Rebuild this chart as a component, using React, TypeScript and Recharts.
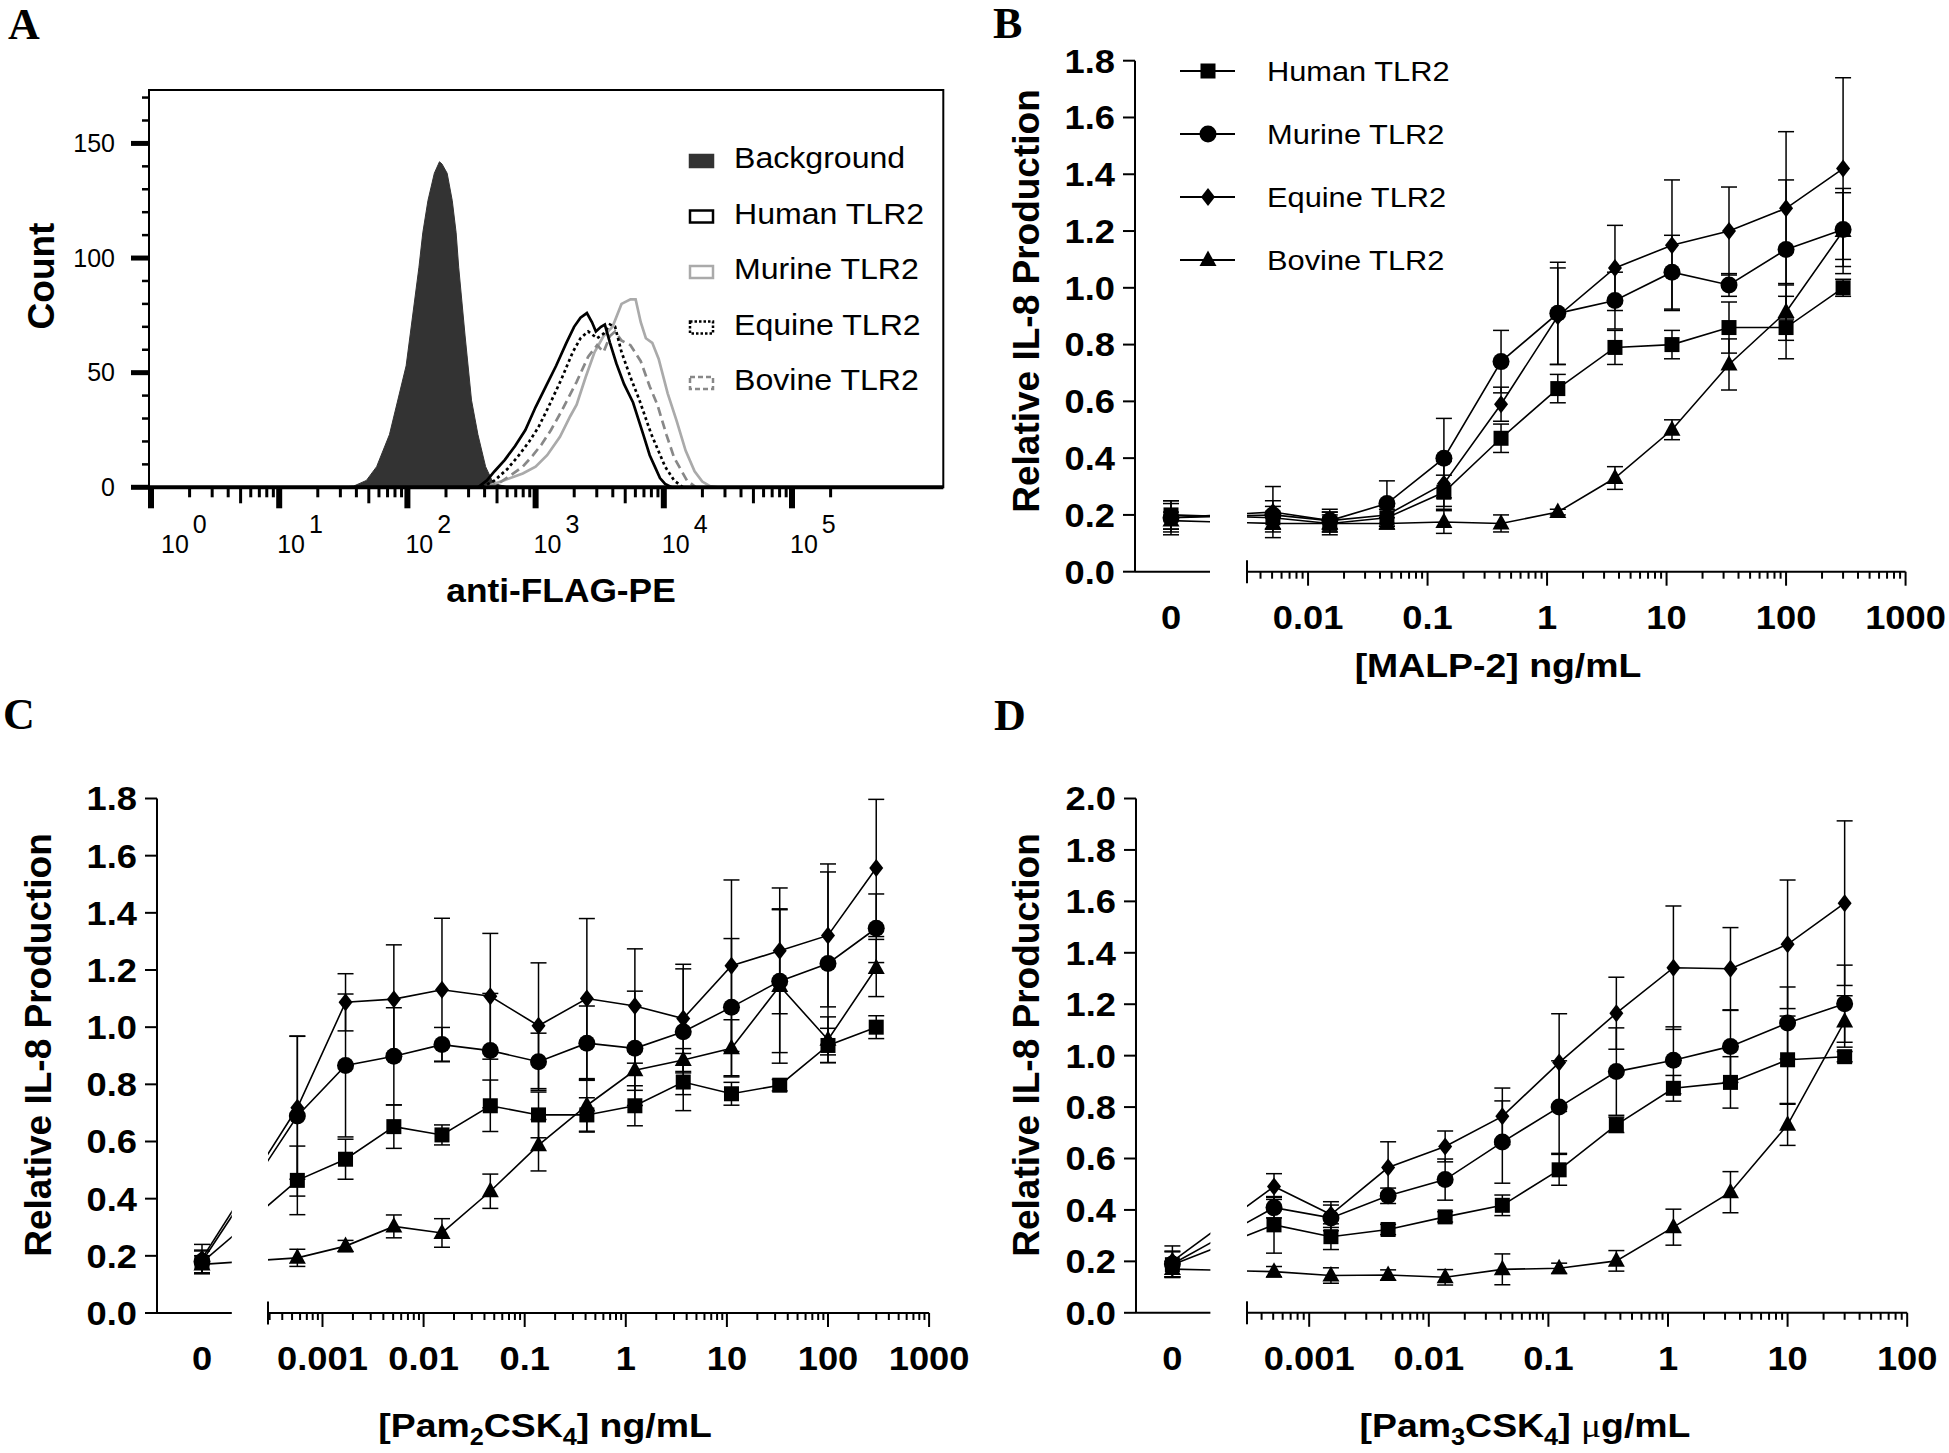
import React from 'react';
import { ComposedChart, Line, Area, XAxis, YAxis, ErrorBar, ReferenceArea, Legend } from 'recharts';

const SANS = '"Liberation Sans", Arial, Helvetica, sans-serif';
const SERIF = '"Liberation Serif", "Times New Roman", Times, serif';

// ---------------- Panel A: flow cytometry histograms (x = log10 anti-FLAG-PE, y = count)
const BG_LOG = [1.45, 1.58, 1.68, 1.76, 1.86, 1.99, 2.09, 2.12, 2.16, 2.21, 2.25, 2.27, 2.31, 2.35, 2.38, 2.40, 2.45, 2.50, 2.55, 2.61, 2.66, 2.72, 2.80];
const BG_COUNT = [0, 0.5, 3, 9, 23, 53, 96, 111, 125, 137, 142, 141, 137, 125, 111, 96, 66, 38, 23, 9, 3, 1, 0];
const HUMAN_LOG = [0, 2.55, 2.62, 2.68, 2.76, 2.84, 2.92, 3.0, 3.08, 3.16, 3.24, 3.30, 3.35, 3.40, 3.44, 3.47, 3.51, 3.54, 3.58, 3.63, 3.69, 3.76, 3.84, 3.89, 3.93, 3.97, 4.01, 4.06, 5.30];
const HUMAN_COUNT = [0, 0, 3, 7, 12, 18, 25, 35, 44, 53, 63, 70, 74, 76, 72, 68, 70, 71, 63, 54, 45, 37, 23, 14, 9, 4, 1.5, 0, 0];
const MURINE_LOG = [2.6, 2.75, 2.9, 3.0, 3.09, 3.19, 3.27, 3.32, 3.39, 3.46, 3.53, 3.60, 3.67, 3.74, 3.78, 3.82, 3.86, 3.91, 3.96, 4.03, 4.10, 4.17, 4.24, 4.30, 4.36, 4.42];
const MURINE_COUNT = [0, 3, 6, 9, 14, 22, 31, 36, 48, 59, 66, 70, 80, 82, 82, 72, 65, 63, 56, 41, 29, 16, 7, 2.5, 0.5, 0];
const EQUINE_LOG = [2.58, 2.68, 2.78, 2.87, 2.95, 3.02, 3.10, 3.20, 3.29, 3.35, 3.41, 3.48, 3.53, 3.58, 3.62, 3.67, 3.74, 3.81, 3.90, 4.01, 4.08, 4.15];
const EQUINE_COUNT = [0, 3, 8, 14, 20, 26, 35, 47, 59, 65, 68, 65, 67, 71, 70, 59, 48, 38, 23.5, 9, 3, 0];
const BOVINE_LOG = [2.62, 2.72, 2.80, 2.90, 2.98, 3.05, 3.12, 3.20, 3.32, 3.41, 3.48, 3.53, 3.58, 3.62, 3.67, 3.74, 3.82, 3.89, 3.95, 4.02, 4.08, 4.13, 4.18, 4.25];
const BOVINE_COUNT = [0, 2, 5, 9, 14, 19, 25, 33, 46, 57, 62, 59, 66, 68, 64, 62, 55, 44, 36, 23, 13, 8, 3, 0];
const A_Y_TICKS = [0, 10, 20, 30, 40, 50, 60, 70, 80, 90, 100, 110, 120, 130, 140, 150, 160, 170];
const A_X_MAJOR = [0, 1, 2, 3, 4, 5];
const A_LEGEND = [
  { name: 'Background', fill: '#333333', stroke: '#333333', dash: undefined as string | undefined },
  { name: 'Human TLR2', fill: '#ffffff', stroke: '#000000', dash: undefined },
  { name: 'Murine TLR2', fill: '#ffffff', stroke: '#aaaaaa', dash: undefined },
  { name: 'Equine TLR2', fill: '#ffffff', stroke: '#000000', dash: '2.5 2' },
  { name: 'Bovine TLR2', fill: '#ffffff', stroke: '#888888', dash: '5 3' },
];

// ---------------- Panels B-D: dose response (mean and SD)
const SPECIES = [
  { key: 'human', name: 'Human TLR2', shape: 'square' },
  { key: 'murine', name: 'Murine TLR2', shape: 'circle' },
  { key: 'equine', name: 'Equine TLR2', shape: 'diamond' },
  { key: 'bovine', name: 'Bovine TLR2', shape: 'triangle' },
];

const B_CONC = [0, 0.00508, 0.0152, 0.0457, 0.137, 0.412, 1.23, 3.70, 11.1, 33.3, 100, 300];
const B_HUMAN = [0.20, 0.19, 0.17, 0.19, 0.28, 0.47, 0.645, 0.79, 0.80, 0.86, 0.86, 1.00];
const B_HUMAN_SD = [0.05, 0.04, 0.04, 0.03, 0.06, 0.05, 0.05, 0.06, 0.05, 0.09, 0.11, 0.03];
const B_MURINE = [0.19, 0.20, 0.18, 0.24, 0.40, 0.74, 0.91, 0.955, 1.055, 1.01, 1.135, 1.205];
const B_MURINE_SD = [0.06, 0.05, 0.04, 0.08, 0.14, 0.11, 0.18, 0.10, 0.13, 0.04, 0.245, 0.13];
const B_EQUINE = [0.19, 0.21, 0.18, 0.20, 0.31, 0.59, 0.90, 1.07, 1.15, 1.20, 1.28, 1.42];
const B_EQUINE_SD = [0.05, 0.09, 0.03, 0.03, 0.08, 0.06, 0.17, 0.15, 0.23, 0.155, 0.27, 0.32];
const B_BOVINE = [0.18, 0.17, 0.17, 0.17, 0.175, 0.17, 0.21, 0.33, 0.50, 0.73, 0.915, 1.20];
const B_BOVINE_SD = [0.03, 0.03, 0.03, 0.02, 0.04, 0.03, 0.01, 0.04, 0.035, 0.09, 0.10, 0.15];
const B_X_LABELS: Record<number, string> = { [-2]: '0.01', [-1]: '0.1', 0: '1', 1: '10', 2: '100', 3: '1000' };

const C_CONC = [0, 0.000564, 0.00169, 0.00508, 0.0152, 0.0457, 0.137, 0.412, 1.23, 3.70, 11.1, 33.3, 100, 300];
const C_HUMAN = [0.177, 0.464, 0.538, 0.652, 0.623, 0.725, 0.693, 0.693, 0.725, 0.808, 0.767, 0.797, 0.936, 1.0];
const C_HUMAN_SD = [0.04, 0.12, 0.07, 0.076, 0.035, 0.09, 0.08, 0.06, 0.07, 0.10, 0.04, 0.02, 0.06, 0.04];
const C_MURINE = [0.18, 0.689, 0.866, 0.898, 0.939, 0.918, 0.879, 0.944, 0.926, 0.984, 1.070, 1.161, 1.223, 1.346];
const C_MURINE_SD = [0.04, 0.28, 0.25, 0.17, 0.06, 0.20, 0.10, 0.13, 0.20, 0.22, 0.24, 0.25, 0.32, 0.12];
const C_EQUINE = [0.19, 0.718, 1.087, 1.098, 1.131, 1.108, 1.005, 1.100, 1.074, 1.030, 1.215, 1.267, 1.321, 1.557];
const C_EQUINE_SD = [0.05, 0.25, 0.10, 0.19, 0.25, 0.22, 0.22, 0.28, 0.20, 0.19, 0.30, 0.22, 0.25, 0.24];
const C_BOVINE = [0.17, 0.193, 0.234, 0.303, 0.280, 0.426, 0.587, 0.726, 0.849, 0.885, 0.926, 1.144, 0.956, 1.207];
const C_BOVINE_SD = [0.03, 0.03, 0.02, 0.04, 0.05, 0.06, 0.09, 0.09, 0.07, 0.04, 0.10, 0.27, 0.08, 0.10];
const C_X_LABELS: Record<number, string> = { [-3]: '0.001', [-2]: '0.01', [-1]: '0.1', 0: '1', 1: '10', 2: '100', 3: '1000' };

const D_CONC = [0, 0.000508, 0.00152, 0.00457, 0.0137, 0.0412, 0.123, 0.370, 1.11, 3.33, 10, 30];
const D_HUMAN = [0.187, 0.342, 0.296, 0.324, 0.373, 0.418, 0.556, 0.731, 0.873, 0.896, 0.984, 0.996];
const D_HUMAN_SD = [0.05, 0.11, 0.05, 0.02, 0.02, 0.04, 0.06, 0.03, 0.05, 0.10, 0.17, 0.02];
const D_MURINE = [0.19, 0.409, 0.369, 0.455, 0.518, 0.664, 0.80, 0.938, 0.982, 1.036, 1.127, 1.202];
const D_MURINE_SD = [0.05, 0.04, 0.05, 0.03, 0.08, 0.16, 0.18, 0.17, 0.13, 0.14, 0.14, 0.15];
const D_EQUINE = [0.20, 0.491, 0.382, 0.565, 0.647, 0.764, 0.973, 1.165, 1.342, 1.338, 1.433, 1.593];
const D_EQUINE_SD = [0.06, 0.05, 0.05, 0.10, 0.06, 0.11, 0.19, 0.14, 0.24, 0.16, 0.25, 0.32];
const D_BOVINE = [0.17, 0.16, 0.145, 0.147, 0.138, 0.169, 0.173, 0.202, 0.333, 0.469, 0.731, 1.133];
const D_BOVINE_SD = [0.03, 0.02, 0.03, 0.02, 0.03, 0.06, 0.02, 0.04, 0.07, 0.08, 0.08, 0.10];
const D_X_LABELS: Record<number, string> = { [-3]: '0.001', [-2]: '0.01', [-1]: '0.1', 0: '1', 1: '10', 2: '100' };

const Y_TICKS_18 = [0, 0.2, 0.4, 0.6, 0.8, 1.0, 1.2, 1.4, 1.6, 1.8];
const Y_TICKS_20 = [0, 0.2, 0.4, 0.6, 0.8, 1.0, 1.2, 1.4, 1.6, 1.8, 2.0];

// ---------------- helpers
const WIDE = 1.1; // glyphs in the figure are slightly stretched horizontally
const stretch = (x: number, y: number, s: number) => `translate(${x} ${y}) scale(${s} 1) translate(${-x} ${-y})`;
const pairs = (xs: number[], ys: number[]) => xs.map((x, i) => ({ x, count: ys[i] }));

function Marker({ shape, cx, cy }: { shape: string; cx: number; cy: number }) {
  if (cx == null || cy == null || isNaN(cx) || isNaN(cy)) return <g />;
  if (shape === 'square') return <rect x={cx - 7.5} y={cy - 7.5} width={15} height={15} fill="#000" />;
  if (shape === 'circle') return <circle cx={cx} cy={cy} r={8.5} fill="#000" />;
  if (shape === 'diamond')
    return <polygon points={`${cx},${cy - 9} ${cx + 7},${cy} ${cx},${cy + 9} ${cx - 7},${cy}`} fill="#000" />;
  return <polygon points={`${cx},${cy - 9.5} ${cx + 8.5},${cy + 6} ${cx - 8.5},${cy + 6}`} fill="#000" />;
}
const dotFor = (shape: string) => (p: any) => <Marker key={`d-${p.index}`} shape={shape} cx={p.cx} cy={p.cy} />;

function HistXTick(props: any) {
  const { x, y, payload } = props;
  const v: number = payload.value;
  const major = Math.abs(v - Math.round(v)) < 1e-6;
  const frac = v - Math.floor(v + 1e-9);
  const five = !major && Math.abs(frac - Math.log10(5)) < 1e-6;
  const len = major ? 21 : five ? 16 : 10;
  return (
    <g>
      <line x1={x} x2={x} y1={y} y2={y + len} stroke="#000" strokeWidth={major ? 6 : 3} />
      {major && (
        <text x={x + (Math.round(v) === 0 ? 10 : -2)} y={y + 66} fontSize={25} fontFamily={SANS} fill="#000">
          10<tspan dx={4} dy={-20}>{Math.round(v)}</tspan>
        </text>
      )}
    </g>
  );
}

function HistYTick(props: any) {
  const { x, y, payload } = props;
  const v: number = payload.value;
  const major = v % 50 === 0;
  return (
    <g>
      <line x1={x - (major ? 18 : 7)} x2={x} y1={y} y2={y} stroke="#000" strokeWidth={major ? 5 : 2.5} />
      {major && (
        <text x={x - 34} y={y} dy="0.35em" textAnchor="end" fontSize={25} fontFamily={SANS} fill="#000">
          {v}
        </text>
      )}
    </g>
  );
}

function HistLegend() {
  return (
    <svg width={270} height={290}>
      {A_LEGEND.map((item, i) => {
        const cy = 31 + i * 55.5;
        return (
          <g key={item.name}>
            <rect x={11} y={cy - 6} width={23} height={12} fill={item.fill} stroke={item.stroke}
              strokeWidth={2.5} strokeDasharray={item.dash} />
            <text x={55} y={cy - 3} dominantBaseline="central" fontSize={30} fontFamily={SANS} fill="#000"
              transform={stretch(55, cy, 1.07)}>
              {item.name}
            </text>
          </g>
        );
      })}
    </svg>
  );
}

function PanelA() {
  const xMin = -0.0156;
  const xMax = 6.18;
  const yMax = 173.3;
  const minors: number[] = [];
  for (let d = 0; d <= 5; d++) for (let k = 2; k <= 9; k++) {
    const v = d + Math.log10(k);
    if (v <= 5.31) minors.push(v);
  }
  const ticks = [...A_X_MAJOR, ...minors].sort((a, b) => a - b);
  return (
    <div style={{ position: 'absolute', left: 0, top: 0 }}>
      <ComposedChart width={980} height={640} margin={{ top: 90, left: 49, right: 36.7, bottom: 82.7 }}>
        <XAxis type="number" dataKey="x" domain={[xMin, xMax]} allowDataOverflow ticks={ticks} interval={0}
          tickSize={0} tickMargin={0} tickLine={false} tick={HistXTick} height={70}
          axisLine={{ stroke: '#000', strokeWidth: 4 }} />
        <YAxis type="number" domain={[0, yMax]} allowDataOverflow ticks={A_Y_TICKS} interval={0}
          tickSize={0} tickMargin={0} tickLine={false} tick={HistYTick} width={100}
          axisLine={{ stroke: '#000', strokeWidth: 2 }} />
        <ReferenceArea x1={xMin} x2={xMax} y1={0} y2={yMax} fill="none" fillOpacity={0} stroke="#000" strokeWidth={2} />
        <Area data={pairs(BG_LOG, BG_COUNT)} dataKey="count" type="linear" fill="#333333" fillOpacity={1}
          stroke="#333333" strokeWidth={1} isAnimationActive={false} dot={false} activeDot={false} />
        <Line data={pairs(MURINE_LOG, MURINE_COUNT)} dataKey="count" type="linear" stroke="#aaaaaa" strokeWidth={2.7}
          dot={false} activeDot={false} isAnimationActive={false} />
        <Line data={pairs(BOVINE_LOG, BOVINE_COUNT)} dataKey="count" type="linear" stroke="#888888" strokeWidth={2.7}
          strokeDasharray="9 5" dot={false} activeDot={false} isAnimationActive={false} />
        <Line data={pairs(EQUINE_LOG, EQUINE_COUNT)} dataKey="count" type="linear" stroke="#000" strokeWidth={2.7}
          strokeDasharray="3 3" dot={false} activeDot={false} isAnimationActive={false} />
        <Line data={pairs(HUMAN_LOG, HUMAN_COUNT)} dataKey="count" type="linear" stroke="#000" strokeWidth={2.7}
          dot={false} activeDot={false} isAnimationActive={false} />
        <Legend layout="vertical" align="center" verticalAlign="middle" content={() => <HistLegend />}
          wrapperStyle={{ left: 679, top: 130, width: 270, height: 290 }} />
      </ComposedChart>
    </div>
  );
}

function DoseLegend() {
  return (
    <svg width={330} height={260}>
      {SPECIES.map((s, i) => {
        const cy = 31 + i * 63;
        return (
          <g key={s.key}>
            <line x1={10} x2={65} y1={cy} y2={cy} stroke="#000" strokeWidth={2} />
            <Marker shape={s.shape} cx={38} cy={cy} />
            <text x={97} y={cy} dominantBaseline="central" fontSize={28} fontFamily={SANS} fill="#000"
              transform={stretch(97, cy, WIDE)}>{s.name}</text>
          </g>
        );
      })}
    </svg>
  );
}

function DoseYTick(p: any) {
  const { x, y, payload } = p;
  return (
    <text x={x} y={y} dy="0.36em" textAnchor="end" fontSize={33} fontWeight={700} fontFamily={SANS} fill="#000"
      transform={stretch(x, y, WIDE)}>
      {Number(payload.value).toFixed(1)}
    </text>
  );
}

type PanelCfg = {
  conc: number[];
  values: number[][];
  sds: number[][];
  labels: Record<number, string>;
  yMax: number;
  yTicks: number[];
  top: number;
  height: number;
  plotTop: number;
  plotBottom: number;
  plotLeft: number;
  leftRight: number;
  zeroPx: number;
  rightLeft: number;
  pxPerDec: number;
  rightStart: number;
  rightEnd: number;
  yAxisWidth: number;
  containerRight: number;
  legend?: boolean;
};

function DosePanel({ cfg }: { cfg: PanelCfg }) {
  const { pxPerDec, rightStart, rightEnd, rightLeft } = cfg;
  const leftDomain = [
    rightStart - (rightLeft - cfg.plotLeft) / pxPerDec,
    rightStart - (rightLeft - cfg.leftRight) / pxPerDec,
  ];
  const zeroPos = rightStart - (rightLeft - cfg.zeroPx) / pxPerDec;
  const rightRightPx = rightLeft + (rightEnd - rightStart) * pxPerDec;

  const rows = cfg.conc.map((c, i) => {
    const r: any = { pos: c === 0 ? zeroPos : Math.log10(c) };
    SPECIES.forEach((s, j) => {
      r[s.key] = cfg.values[j][i];
      r[s.key + 'Sd'] = cfg.sds[j][i];
    });
    return r;
  });
  const noErr = (r: any) => {
    const o: any = { ...r };
    SPECIES.forEach((s) => { o[s.key + 'Sd'] = null; });
    return o;
  };
  const leftRows = rows.slice(0, 2).map((r, i) => (i === 0 ? r : noErr(r)));
  const rightRows = rows.map((r, i) => (i === 0 ? noErr(r) : r));

  const majors: number[] = [];
  const minors: number[] = [];
  for (let d = Math.floor(rightStart); d <= Math.ceil(rightEnd); d++) {
    if (d >= rightStart - 1e-9 && d <= rightEnd + 1e-9) majors.push(d);
    for (let k = 2; k <= 9; k++) {
      const v = d + Math.log10(k);
      if (v > rightStart + 1e-6 && v < rightEnd - 1e-6) minors.push(v);
    }
  }
  const rightTicks = [rightStart, ...majors, ...minors].sort((a, b) => a - b);

  const LogTick = (p: any) => {
    const { x, y, payload } = p;
    const v: number = payload.value;
    if (Math.abs(v - rightStart) < 1e-9) {
      return <line x1={x} x2={x} y1={y - 11.5} y2={y + 11.5} stroke="#000" strokeWidth={2} />;
    }
    const r = Math.round(v);
    const major = Math.abs(v - r) < 1e-6;
    return (
      <g>
        <line x1={x} x2={x} y1={y} y2={y + (major ? 14 : 7)} stroke="#000" strokeWidth={2} />
        {major && (
          <text x={x} y={y + 57} textAnchor="middle" fontSize={33} fontWeight={700} fontFamily={SANS} fill="#000"
            transform={stretch(x, y, WIDE)}>
            {cfg.labels[r]}
          </text>
        )}
      </g>
    );
  };
  const ZeroTick = (p: any) => (
    <text x={p.x} y={p.y + 57} textAnchor="middle" fontSize={33} fontWeight={700} fontFamily={SANS} fill="#000"
      transform={stretch(p.x, p.y, WIDE)}>0</text>
  );

  const lines = SPECIES.map((s) => (
    <Line key={s.key} dataKey={s.key} type="linear" stroke="#000" strokeWidth={1.6}
      dot={dotFor(s.shape)} activeDot={false} isAnimationActive={false}>
      <ErrorBar dataKey={s.key + 'Sd'} direction="y" width={8} stroke="#000" strokeWidth={1.5} isAnimationActive={false} />
    </Line>
  ));

  const lLeft = cfg.plotLeft - cfg.yAxisWidth;
  const lWidth = cfg.leftRight + 2 - lLeft;
  const rLeft = rightLeft - 2;
  const rWidth = cfg.containerRight - rLeft;
  const mTop = cfg.plotTop - cfg.top;
  const mBottom = cfg.top + cfg.height - cfg.plotBottom - 70;

  return (
    <>
      <div style={{ position: 'absolute', left: lLeft, top: cfg.top }}>
        <ComposedChart width={lWidth} height={cfg.height} data={leftRows}
          margin={{ top: mTop, bottom: mBottom, left: 0, right: 2 }}>
          <XAxis type="number" dataKey="pos" domain={leftDomain} allowDataOverflow ticks={[zeroPos]} interval={0}
            tickSize={0} tickMargin={0} tickLine={false} tick={ZeroTick} height={70}
            axisLine={{ stroke: '#000', strokeWidth: 2 }} />
          <YAxis type="number" domain={[0, cfg.yMax]} allowDataOverflow ticks={cfg.yTicks} interval={0}
            width={cfg.yAxisWidth} tickSize={12} tickMargin={8} tick={DoseYTick}
            tickLine={{ stroke: '#000', strokeWidth: 2 }} axisLine={{ stroke: '#000', strokeWidth: 2 }} />
          {lines}
        </ComposedChart>
      </div>
      <div style={{ position: 'absolute', left: rLeft, top: cfg.top }}>
        <ComposedChart width={rWidth} height={cfg.height} data={rightRows}
          margin={{ top: mTop, bottom: mBottom, left: 2, right: cfg.containerRight - rightRightPx }}>
          <XAxis type="number" dataKey="pos" domain={[rightStart, rightEnd]} allowDataOverflow ticks={rightTicks}
            interval={0} tickSize={0} tickMargin={0} tickLine={false} tick={LogTick} height={70}
            axisLine={{ stroke: '#000', strokeWidth: 2 }} />
          <YAxis hide width={0} type="number" domain={[0, cfg.yMax]} allowDataOverflow />
          {lines}
          {cfg.legend && (
            <Legend layout="vertical" align="center" verticalAlign="middle" content={() => <DoseLegend />}
              wrapperStyle={{ left: 1170 - rLeft, top: 40, width: 330, height: 260 }} />
          )}
        </ComposedChart>
      </div>
    </>
  );
}

const PANEL_B: PanelCfg = {
  conc: B_CONC,
  values: [B_HUMAN, B_MURINE, B_EQUINE, B_BOVINE],
  sds: [B_HUMAN_SD, B_MURINE_SD, B_EQUINE_SD, B_BOVINE_SD],
  labels: B_X_LABELS, yMax: 1.8, yTicks: Y_TICKS_18,
  top: 0, height: 690, plotTop: 60.7, plotBottom: 571.7,
  plotLeft: 1135, leftRight: 1210, zeroPx: 1171, rightLeft: 1247,
  pxPerDec: 119.5, rightStart: -2.511, rightEnd: 3, yAxisWidth: 135, containerRight: 1949, legend: true,
};
const PANEL_C: PanelCfg = {
  conc: C_CONC,
  values: [C_HUMAN, C_MURINE, C_EQUINE, C_BOVINE],
  sds: [C_HUMAN_SD, C_MURINE_SD, C_EQUINE_SD, C_BOVINE_SD],
  labels: C_X_LABELS, yMax: 1.8, yTicks: Y_TICKS_18,
  top: 700, height: 753, plotTop: 798.5, plotBottom: 1313,
  plotLeft: 156.7, leftRight: 231.5, zeroPx: 201.7, rightLeft: 268.2,
  pxPerDec: 101.1, rightStart: -3.539, rightEnd: 3, yAxisWidth: 140, containerRight: 990,
};
const PANEL_D: PanelCfg = {
  conc: D_CONC,
  values: [D_HUMAN, D_MURINE, D_EQUINE, D_BOVINE],
  sds: [D_HUMAN_SD, D_MURINE_SD, D_EQUINE_SD, D_BOVINE_SD],
  labels: D_X_LABELS, yMax: 2.0, yTicks: Y_TICKS_20,
  top: 700, height: 753, plotTop: 798.5, plotBottom: 1312.8,
  plotLeft: 1135.6, leftRight: 1210, zeroPx: 1172, rightLeft: 1246.9,
  pxPerDec: 119.6, rightStart: -3.52, rightEnd: 2, yAxisWidth: 135, containerRight: 1949,
};

export default function App() {
  return (
    <div style={{ position: 'absolute', left: 0, top: 0, width: 1949, height: 1453, background: '#fff', overflow: 'hidden' }}>
      <PanelA />
      <DosePanel cfg={PANEL_B} />
      <DosePanel cfg={PANEL_C} />
      <DosePanel cfg={PANEL_D} />
      <svg width={1949} height={1453} style={{ position: 'absolute', left: 0, top: 0, pointerEvents: 'none' }}>
        <g fontFamily={SERIF} fontWeight={700} fontSize={44} fill="#000">
          <text x={8} y={39}>A</text>
          <text x={993} y={38}>B</text>
          <text x={3} y={729}>C</text>
          <text x={994} y={730}>D</text>
        </g>
        <g fontFamily={SANS} fontWeight={700} fill="#000">
          <text transform="rotate(-90 41.5 276)" x={41.5} y={276} fontSize={37} textAnchor="middle" dominantBaseline="central">Count</text>
          <text x={561} y={602} fontSize={33} textAnchor="middle" transform={stretch(561, 602, 1.07)}>anti-FLAG-PE</text>
          <text transform="rotate(-90 1026 301)" x={1026} y={301} fontSize={37} textAnchor="middle" dominantBaseline="central">Relative IL-8 Production</text>
          <text x={1498} y={677} fontSize={34} textAnchor="middle" transform={stretch(1498, 677, WIDE)}>[MALP-2] ng/mL</text>
          <text transform="rotate(-90 38 1045)" x={38} y={1045} fontSize={37} textAnchor="middle" dominantBaseline="central">Relative IL-8 Production</text>
          <text x={545} y={1437} fontSize={34} textAnchor="middle" transform={stretch(545, 1437, WIDE)}>
            [Pam<tspan fontSize={23} dy={8}>2</tspan><tspan dy={-8}>CSK</tspan><tspan fontSize={23} dy={8}>4</tspan><tspan dy={-8}>{'] ng/mL'}</tspan>
          </text>
          <text transform="rotate(-90 1026 1045)" x={1026} y={1045} fontSize={37} textAnchor="middle" dominantBaseline="central">Relative IL-8 Production</text>
          <text x={1525} y={1437} fontSize={34} textAnchor="middle" transform={stretch(1525, 1437, WIDE)}>
            [Pam<tspan fontSize={23} dy={8}>3</tspan><tspan dy={-8}>CSK</tspan><tspan fontSize={23} dy={8}>4</tspan><tspan dy={-8}>{'] '}</tspan><tspan fontFamily={SERIF} fontWeight={400}>μ</tspan>g/mL
          </text>
        </g>
      </svg>
    </div>
  );
}
